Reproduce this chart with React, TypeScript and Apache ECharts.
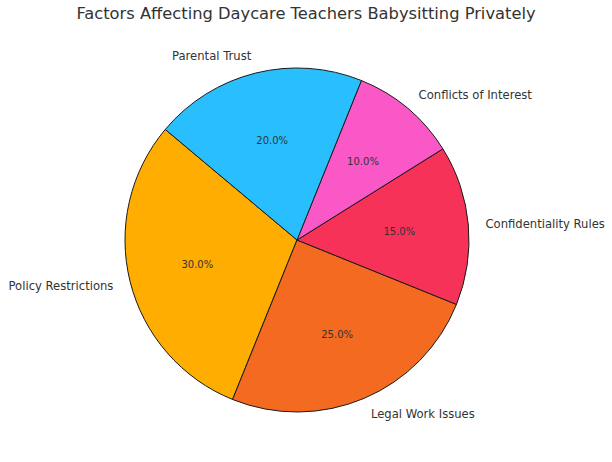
import React, { useEffect, useRef } from "react";
import * as echarts from "echarts";

const categories = [
  "Policy Restrictions",
  "Legal Work Issues",
  "Confidentiality Rules",
  "Conflicts of Interest",
  "Parental Trust",
];
const values = [30, 25, 15, 10, 20];
const colors = ["#FFAD00", "#F46A20", "#F73258", "#FA58C6", "#29BFFE"];
const titleText = "Factors Affecting Daycare Teachers Babysitting Privately";

const FONT = "DejaVu Sans";
const CX = 297;
const CY = 240;
const R = 172;

export default function App() {
  const ref = useRef<HTMLDivElement>(null);
  useEffect(() => {
    document.body.style.margin = "0";
    const chart = echarts.init(ref.current!, null, { renderer: "svg" });
    const data = categories.map((name, i) => ({
      name,
      value: values[i],
      itemStyle: { color: colors[i] },
    }));
    chart.setOption({
      animation: false,
      title: {
        text: titleText,
        left: "center",
        top: 5,
        padding: 0,
        textStyle: {
          fontFamily: FONT,
          fontSize: 16.3,
          fontWeight: "normal",
          color: "#333333",
        },
      },
      series: [
        {
          type: "pie",
          left: 0,
          top: 0,
          width: 900,
          height: 462,
          center: [CX, CY],
          radius: [0, R],
          startAngle: 140,
          clockwise: false,
          avoidLabelOverlap: false,
          bleedMargin: 0,
          silent: true,
          data,
          itemStyle: { borderColor: "#1a1a1a", borderWidth: 1 },
          label: {
            show: true,
            position: "outside",
            formatter: "{b}",
            fontFamily: FONT,
            fontSize: 11.6,
            color: "#333333",
            distanceToLabelLine: 0,
          },
          labelLine: { show: false, length: R * 0.1, length2: 0 },
          emphasis: { disabled: true },
        },
        {
          type: "pie",
          left: 0,
          top: 0,
          width: 900,
          height: 462,
          center: [CX, CY],
          radius: [0, R * 1.2 - 7],
          startAngle: 140,
          clockwise: false,
          silent: true,
          z: 5,
          data: categories.map((name, i) => ({ name, value: values[i] })),
          itemStyle: { color: "rgba(0,0,0,0)", borderWidth: 0 },
          label: {
            show: true,
            position: "inside",
            formatter: (p: any) => p.percent.toFixed(1) + "%",
            fontFamily: FONT,
            fontSize: 10,
            color: "#333333",
          },
          labelLine: { show: false },
          emphasis: { disabled: true },
        },
      ],
    });
    return () => chart.dispose();
  }, []);
  return <div ref={ref} style={{ width: 612, height: 462 }} />;
}
